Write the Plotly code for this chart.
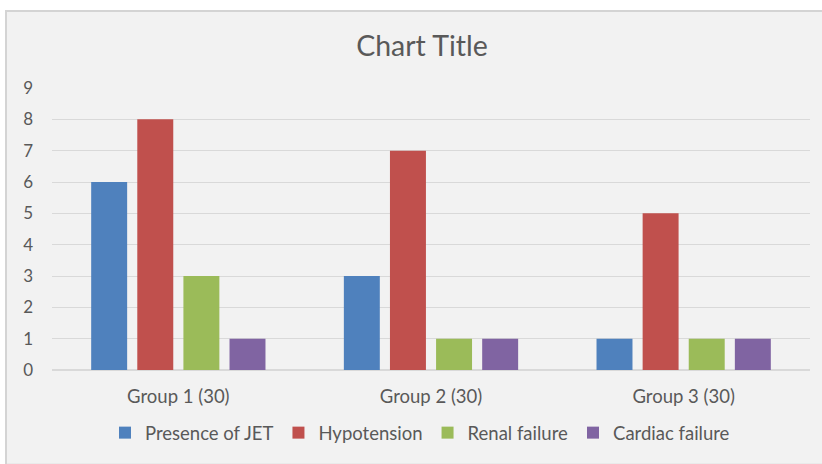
import plotly.graph_objects as go

categories = ["Group 1 (30)", "Group 2 (30)", "Group 3 (30)"]
presence_jet = [6, 3, 1]
hypotension = [8, 7, 5]
renal_failure = [3, 1, 1]
cardiac_failure = [1, 1, 1]

series = [
    ("Presence of JET", presence_jet, "#4f81bd"),
    ("Hypotension", hypotension, "#c0504d"),
    ("Renal failure", renal_failure, "#9bbb59"),
    ("Cardiac failure", cardiac_failure, "#8064a2"),
]

fig = go.Figure()
for name, vals, col in series:
    fig.add_trace(go.Bar(x=categories, y=vals, name=name, marker_color=col,
                         marker_line_width=0))

W, H = 822, 464
L, R, T, B = 52, 12, 88, 90
pw, ph = W - L - R, H - T - B

def px_x(x):
    return (x - L) / pw

def px_y(y):
    return (H - B - y) / ph

fig.add_shape(type="rect", xref="paper", yref="paper",
              x0=px_x(6), x1=px_x(830), y0=px_y(470), y1=px_y(10),
              fillcolor="#f2f2f2", line=dict(color="#d4d4d4", width=2), layer="below")

FONT = "Lato, Open Sans, sans-serif"
fig.update_layout(
    width=W, height=H,
    margin=dict(l=L, r=R, t=T, b=B),
    paper_bgcolor="white",
    plot_bgcolor="#f2f2f2",
    barmode="group",
    bargap=0.27,
    bargroupgap=0.22,
    font=dict(family=FONT, color="#595959", size=16),
    title=dict(text="Chart Title", x=px_x(422), xref="paper", xanchor="center",
               y=1 - 46 / H, yanchor="middle",
               font=dict(family=FONT, size=28.5, color="#595959")),
    showlegend=True,
    legend=dict(orientation="h", x=px_x(420), xanchor="center", xref="paper",
                y=px_y(438), yanchor="middle", bgcolor="rgba(0,0,0,0)",
                font=dict(family=FONT, size=18.5, color="#595959"), itemwidth=30,
                traceorder="normal"),
    yaxis=dict(range=[0, 9], dtick=1, showgrid=True, gridcolor="#d9d9d9",
               gridwidth=1, zeroline=True, zerolinecolor="#d9d9d9",
               ticks="", tickfont=dict(family=FONT, size=17, color="#595959"),
               showline=False, ticklabelstandoff=18),
    xaxis=dict(showgrid=False, ticks="", showline=True, linecolor="#d9d9d9",
               tickfont=dict(family=FONT, size=18.5, color="#595959"),
               ticklabelstandoff=10),
)

fig.write_html("out.html", config={"displayModeBar": False},
               post_script="document.body.style.margin='0';")
